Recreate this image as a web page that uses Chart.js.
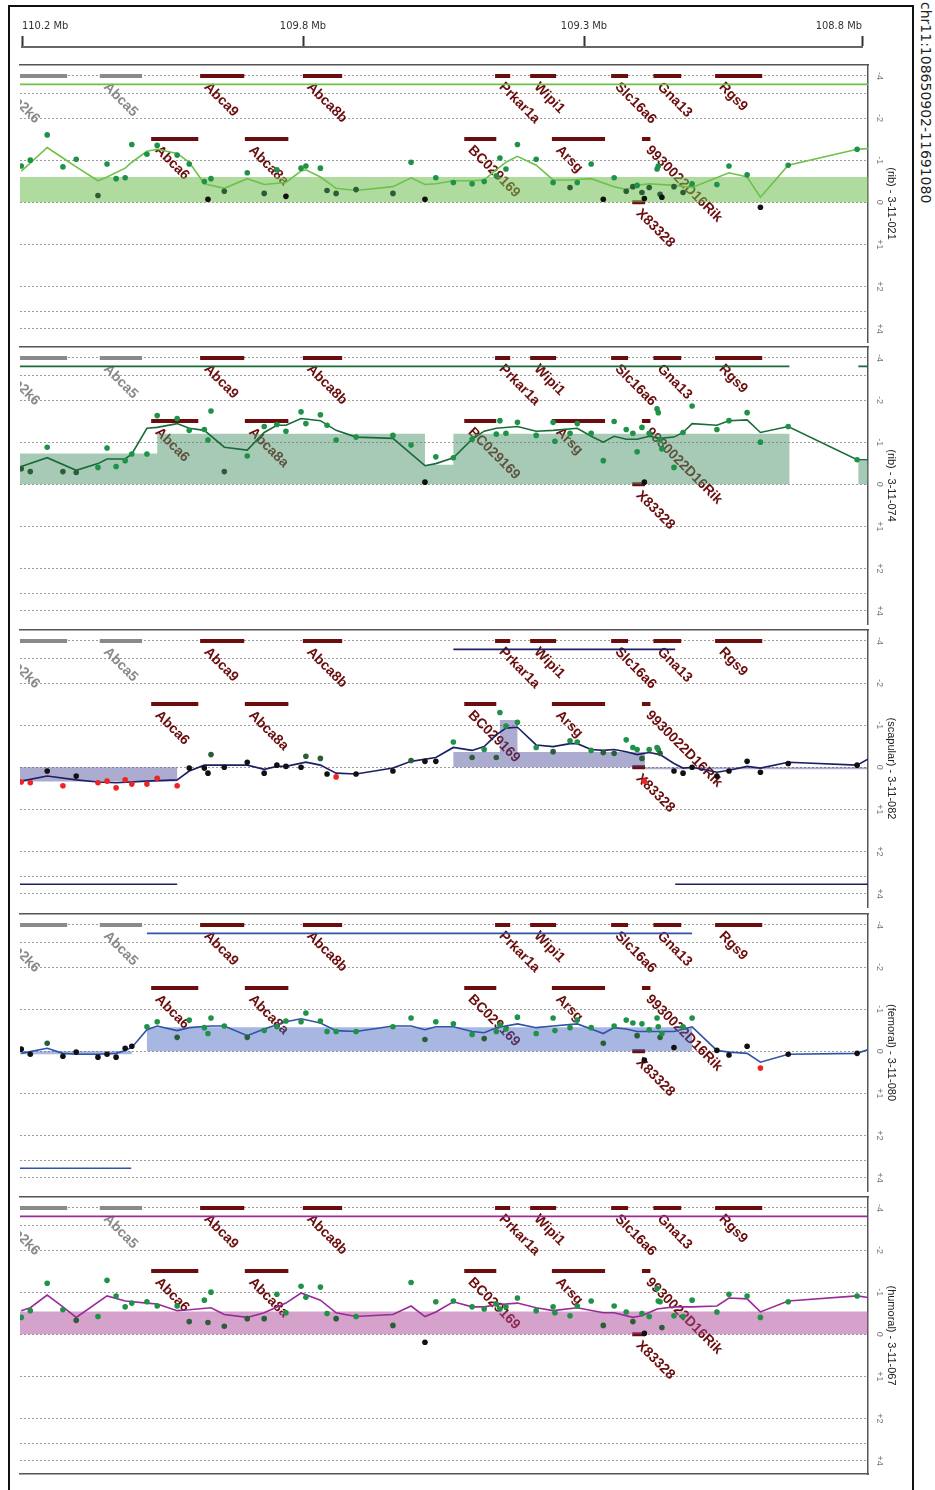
<!DOCTYPE html>
<html>
<head>
<meta charset="utf-8">
<title>chr11 array CGH</title>
<script src="https://cdn.jsdelivr.net/npm/chart.js@4.4.1/dist/chart.umd.min.js"></script>
<style>
  body { margin: 0; background: #fff; }
  #page { position: relative; width: 935px; height: 1490px; overflow: hidden; }
  #frame { position: absolute; left: 8px; top: 5px; width: 902px; height: 1500px; border: 2px solid #111; }
  .box { position: absolute; left: 0; width: 905px; }
  #chrom { position: absolute; left: 918px; top: 2px; writing-mode: vertical-rl; font: 14px "DejaVu Sans", sans-serif; color: #222; white-space: nowrap; }
</style>
</head>
<body>
<div id="page">
  <div id="frame"></div>
  <div class="box" style="top:0;height:52px"><canvas id="ruler" width="905" height="52"></canvas></div>
  <div id="chrom">chr11:108650902-11691080</div>
</div>
<script>
// probe positions on chr11 (Mb), same probes in every sample; last one sits just past the window
const probePos = [110.241, 110.226, 110.198, 110.172, 110.150, 110.114, 110.099, 110.084, 110.069, 110.058,
  110.033, 110.016, 109.983, 109.963, 109.938, 109.932, 109.927, 109.905, 109.867, 109.839,
  109.818, 109.803, 109.778, 109.770, 109.746, 109.735, 109.720, 109.687, 109.626, 109.596,
  109.573, 109.555, 109.526, 109.495, 109.475, 109.455, 109.449, 109.439, 109.420, 109.389,
  109.361, 109.358, 109.333, 109.321, 109.298, 109.278, 109.260, 109.240, 109.229, 109.222,
  109.214, 109.210, 109.202, 109.189, 109.187, 109.184, 109.181, 109.161, 109.146, 109.131,
  109.090, 109.070, 109.040, 109.018, 108.972, 108.858, 108.833];

// (rib) - 3-11-021
const rib021 = [-0.86, -1.00, -1.60, -0.84, -1.02, -0.16, -0.91, -0.56, -0.58, -1.37,
  -1.14, -1.35, -1.12, -0.91, -0.49, -0.07, -0.56, -0.26, -0.70, -0.21,
  -0.77, -0.14, -0.81, -0.86, -0.81, -0.28, -0.21, -0.30, -0.21, -0.95,
  -0.07, -0.58, -0.47, -0.44, -0.49, -0.63, -1.05, -0.79, -1.37, -1.02,
  -0.47, null, -0.35, -0.47, -0.91, -0.07, -0.58, -0.26, -0.37, -0.40,
  -0.23, -0.09, -0.35, -0.79, -0.86, -0.19, -0.12, -0.37, -0.23, -0.44,
  -0.42, -0.86, -0.65, 0.12, -0.88, -1.26, null];
const rib021Smooth = [-0.74, -0.93, -1.30, -1.05, -0.84, -0.51, -0.60, null, -0.81, -0.95,
  -1.21, -1.26, -1.16, -0.95, -0.44, null, null, -0.33, -0.56, -0.42,
  null, -0.47, -0.74, -0.77, -0.60, null, -0.33, -0.28, -0.37, -0.58,
  -0.42, -0.44, -0.51, -0.51, -0.53, -0.77, null, -0.95, -1.09, -0.88,
  -0.53, null, -0.53, null, -0.56, null, -0.37, -0.30, null, -0.40,
  null, null, -0.44, null, null, null, null, -0.40, null, -0.35,
  null, -0.70, -0.60, -0.12, -0.88, -1.26, -1.28];
const rib021Edges = [110.243, 108.840];
const rib021Means = [-0.60];
const rib021Top = [[110.243, 108.840]];
const rib021Bottom = [];

// (rib) - 3-11-074
const rib074 = [-0.37, -0.30, -0.88, -0.30, -0.28, -0.40, -0.86, -0.42, -0.56, -0.72,
  -0.72, -1.63, -1.56, -1.28, -1.30, -1.05, -1.74, -0.30, -0.67, -1.37,
  -1.42, -1.26, -1.72, -1.44, -1.65, -1.40, -1.05, -1.12, -1.16, -0.93,
  -0.05, -0.65, -0.63, -1.07, null, -1.19, -1.51, -1.21, -1.47, -1.16,
  -1.47, -1.02, -1.21, -1.44, -1.21, -0.56, -1.49, -1.30, -1.21, -0.77,
  -1.35, -0.05, -1.21, -1.79, -1.70, -1.05, -0.84, -0.40, -1.23, -1.86,
  -1.30, -1.51, -1.70, -1.00, -1.37, -0.58, null];
const rib074Smooth = [-0.42, null, -0.63, null, -0.33, -0.49, -0.60, null, -0.60, -0.72,
  -1.33, -1.35, -1.44, -1.33, -1.28, null, null, -0.88, -0.81, -1.23,
  -1.40, -1.40, -1.56, null, -1.51, null, -1.28, -1.12, -1.09, null,
  -0.44, -0.49, -0.63, -1.07, -1.26, -1.33, null, null, -1.37, -1.26,
  -1.28, null, null, -1.33, -1.14, -1.00, -1.14, -1.07, null, -1.07,
  null, null, -1.14, null, null, -1.09, null, -1.12, -1.23, -1.44,
  -1.40, -1.51, -1.53, -1.23, -1.37, -0.58, -0.58];
const rib074Edges = [110.243, 110.016, 109.573, 109.526, 108.970, 108.856, 108.840];
const rib074Means = [-0.73, -1.20, -0.46, -1.20, 0, -0.56];
const rib074Top = [[110.243, 108.970], [108.856, 108.840]];
const rib074Bottom = [];

// (scapular) - 3-11-082
const scap082 = [0.35, 0.37, 0.09, 0.44, 0.21, 0.37, 0.33, 0.49, 0.30, 0.40,
  0.40, 0.26, 0.44, 0.02, 0.02, 0.14, -0.30, 0.00, -0.12, 0.14,
  -0.05, -0.02, 0.00, -0.26, -0.21, 0.16, 0.23, 0.16, 0.09, -0.16,
  -0.14, -0.14, -0.60, -0.23, -0.42, -0.23, -1.30, -0.98, -1.07, -0.47,
  -0.37, null, -0.63, -0.60, -0.40, -0.35, -0.33, -0.65, -0.47, -0.42,
  -0.21, 0.33, -0.42, -0.47, -0.42, -0.33, null, 0.09, 0.14, 0.00,
  0.21, 0.09, -0.14, 0.12, -0.09, -0.05, null];
const scap082Smooth = [0.33, null, 0.21, null, 0.30, 0.35, null, 0.37, null, null,
  0.33, null, 0.30, 0.09, -0.05, null, null, null, -0.05, 0.05,
  -0.02, -0.02, null, -0.12, -0.05, null, 0.14, 0.16, 0.02, -0.14,
  null, -0.23, -0.47, -0.40, -0.49, -0.77, null, -0.93, -0.95, -0.53,
  -0.49, null, -0.56, -0.56, -0.42, -0.40, -0.42, -0.37, null, -0.30,
  null, null, -0.35, null, null, -0.30, null, -0.09, 0.02, 0.00,
  0.12, 0.07, -0.02, 0.02, -0.12, -0.05, -0.25];
const scap082Edges = [110.243, 109.983, 109.526, 109.449, 109.420, 109.209, 108.840];
const scap082Means = [0.34, 0, -0.36, -1.12, -0.36, 0.05];
const scap082Top = [[109.526, 109.159]];
const scap082Bottom = [[110.243, 109.983], [109.159, 108.840]];

// (femoral) - 3-11-080
const fem080 = [-0.05, 0.07, -0.19, 0.12, 0.02, 0.14, 0.07, 0.14, -0.07, -0.12,
  -0.58, -0.70, -0.33, -0.74, -0.56, -0.42, -0.79, -0.60, -0.33, -0.49,
  -0.58, -0.72, -0.70, -0.91, -0.72, -0.47, -0.47, -0.47, -0.58, -0.79,
  -0.28, -0.70, -0.65, -0.40, -0.30, -0.47, -0.63, -0.53, -0.81, -0.42,
  -0.79, -0.49, -0.56, -0.74, -0.56, -0.19, -0.60, -0.74, -0.67, -0.37,
  -0.65, 0.21, -0.51, -0.79, -0.58, -0.33, -0.42, -0.09, -0.58, -0.79,
  -0.02, 0.09, -0.12, 0.40, 0.07, 0.05, null];
const fem080Smooth = [0.05, null, -0.07, 0.05, 0.07, 0.07, null, 0.05, -0.02, -0.09,
  -0.51, -0.60, -0.49, -0.56, null, null, -0.60, -0.60, -0.37, -0.53,
  null, -0.70, -0.77, null, -0.67, null, -0.49, -0.47, -0.60, -0.60,
  -0.51, -0.58, -0.58, -0.47, -0.44, -0.56, null, null, -0.65, -0.56,
  -0.60, null, null, -0.65, -0.53, -0.42, -0.56, -0.53, null, -0.47,
  null, null, -0.47, null, null, -0.47, null, -0.47, null, -0.58,
  -0.02, 0.02, 0.05, 0.26, 0.07, 0.05, -0.07];
const fem080Edges = [110.243, 110.058, 110.033, 109.131, 108.840];
const fem080Means = [0.07, 0, -0.57, 0];
const fem080Top = [[110.033, 109.131]];
const fem080Bottom = [[110.243, 110.059]];

// (humoral) - 3-11-067
const hum067 = [-0.40, -0.56, -1.21, -0.58, -0.33, -0.42, -1.28, -0.91, -0.65, -0.74,
  -0.77, -0.67, -0.67, -0.30, -0.81, -0.28, -1.00, -0.19, -0.37, -0.37,
  -0.95, -0.51, -1.14, -0.88, -1.12, -0.49, -0.37, -0.42, -0.21, -1.23,
  0.19, -0.77, -0.79, -0.65, -0.60, -0.72, -0.60, -0.65, -0.86, -0.56,
  -0.65, -0.51, -0.44, -0.67, -0.79, -0.21, -0.67, -0.53, -0.30, null,
  -0.49, -0.02, -0.42, -1.09, -0.79, -0.77, -0.16, -0.44, -0.42, -0.81,
  -0.53, -0.95, -0.91, -0.40, -0.77, -0.91, null];
const hum067Smooth = [-0.56, -0.63, -0.93, -0.65, -0.40, null, -0.91, null, -0.79, null,
  -0.74, -0.72, -0.56, -0.58, null, null, -0.63, -0.47, -0.40, -0.51,
  null, -0.74, -0.98, null, -0.81, null, -0.51, -0.42, -0.47, -0.67,
  -0.42, -0.53, -0.77, -0.65, -0.65, -0.70, null, null, -0.74, -0.63,
  -0.56, null, null, -0.63, null, -0.51, -0.51, null, -0.40, null,
  -0.44, null, null, -0.60, null, null, null, -0.65, null, -0.65,
  -0.67, -0.86, -0.84, -0.53, -0.79, -0.91, -0.86];
const hum067Edges = [110.243, 108.840];
const hum067Means = [-0.54];
const hum067Top = [[110.243, 108.840]];
const hum067Bottom = [];

// genes in the window (Mb), row 1 = upper track, 2 = lower track, 3 = on the zero line
const geneNames = ['Map2k6', 'Abca5', 'Abca9', 'Abca8b', 'Prkar1a', 'Wipi1', 'Slc16a6', 'Gna13', 'Rgs9',
  'Abca6', 'Abca8a', 'BC029169', 'Arsg', '9930022D16Rik', 'X83328'];
const geneStart = [110.284, 110.111, 109.945, 109.775, 109.457, 109.399, 109.265, 109.195, 109.093,
  110.026, 109.871, 109.508, 109.363, 109.214, 109.230];
const geneEnd = [110.165, 110.041, 109.872, 109.710, 109.432, 109.356, 109.237, 109.149, 109.015,
  109.948, 109.799, 109.455, 109.275, 109.200, 109.209];
const geneRow = [1, 1, 1, 1, 1, 1, 1, 1, 1, 2, 2, 2, 2, 2, 3];
const greyGenes = ['Map2k6', 'Abca5'];

// axes (ruler ticks ascending so 'inner' alignment works on the reversed scale)
const rulerTicks = [108.85, 109.31, 109.775, 110.24];
const rulerLabels = ['108.8 Mb', '109.3 Mb', '109.8 Mb', '110.2 Mb'];
const ratioTicks = [-4, -3, -2, -1, 0, 1, 2, 3, 4];
const ratioLabels = ['-4', '', '-2', '-1', '0', '+1', '+2', '', '+4'];

const X_MIN = 108.840, X_MAX = 110.243;
const panelTops = [62, 344, 627, 911, 1194];

// linear up to |2|, log2-compressed beyond
function scaleY(v) {
  const a = Math.abs(v);
  return a <= 2 ? v : Math.sign(v) * (2 + Math.log2(a / 2));
}
const ROW_Y = {1: scaleY(-4), 2: -1.5, 3: 0};
const TOP_TRACK = -2.8, BOTTOM_TRACK = 2.78;

function dotColor(v) {
  if (v >= 0.22) return '#f02222';
  if (v > -0.15) return '#111111';
  if (v > -0.4) return '#2b5e37';
  return '#1e9247';
}

function probePoints(vals) {
  const out = [];
  probePos.forEach((x, i) => { if (vals[i] != null) out.push({x: x, y: scaleY(vals[i])}); });
  return out;
}
function stepPoints(edges, means) {
  const out = [];
  means.forEach((m, i) => { out.push({x: edges[i], y: m}, {x: edges[i + 1], y: m}); });
  return out;
}
function spanPoints(list, y) {
  const out = [];
  list.forEach(r => { out.push({x: r[0], y: y}, {x: r[1], y: y}, {x: r[1], y: null}); });
  return out;
}
function genePoints(row, grey) {
  const out = [];
  geneNames.forEach((g, i) => {
    if (geneRow[i] !== row || greyGenes.includes(g) !== grey) return;
    out.push({x: geneStart[i], y: ROW_Y[row]}, {x: geneEnd[i], y: ROW_Y[row]}, {x: geneEnd[i], y: null});
  });
  return out;
}

const geneLabels = {
  id: 'geneLabels',
  beforeDatasetsDraw(chart) {
    const {ctx, chartArea: a, scales: {x, y}} = chart;
    ctx.save();
    ctx.beginPath();
    ctx.rect(a.left, a.top, a.right - a.left, a.bottom - a.top);
    ctx.clip();
    ctx.font = 'bold 14px "Liberation Sans", Arial, sans-serif';
    ctx.textBaseline = 'top';
    geneNames.forEach((g, i) => {
      ctx.save();
      ctx.translate(x.getPixelForValue(geneStart[i]) + 11, y.getPixelForValue(ROW_Y[geneRow[i]]) + 4);
      ctx.rotate(Math.PI / 4);
      ctx.fillStyle = greyGenes.includes(g) ? '#8a8a8a' : '#6b0d0d';
      ctx.fillText(g, 0, 0);
      ctx.restore();
    });
    ctx.restore();
  }
};

// ruler on top
new Chart(document.getElementById('ruler'), {
  type: 'line',
  data: {datasets: []},
  options: {
    responsive: false, animation: false, events: [],
    layout: {padding: {left: 22, right: 43, top: 0, bottom: 0}},
    plugins: {legend: {display: false}, tooltip: {enabled: false}},
    scales: {
      x: {
        type: 'linear', position: 'top', reverse: true, min: 108.85, max: 110.24,
        afterBuildTicks: s => { s.ticks = rulerTicks.map(v => ({value: v})); },
        afterFit: s => { s.height = 47; s.paddingLeft = 0; s.paddingRight = 0; },
        ticks: {
          align: 'inner', padding: 3, color: '#333', maxRotation: 0,
          font: {family: '"Liberation Sans Narrow", "DejaVu Sans Condensed", Arial', size: 11},
          callback: (v, i) => rulerLabels[i]
        },
        grid: {drawOnChartArea: false, drawTicks: true, tickLength: 11, tickWidth: 2, tickColor: '#333'},
        border: {display: true, color: '#666', width: 2}
      },
      y: {display: false}
    }
  }
});

const panels = [
  {name: '(rib) - 3-11-021', ratios: rib021, smooth: rib021Smooth, edges: rib021Edges, means: rib021Means,
    top: rib021Top, bottom: rib021Bottom, line: '#6cc24a', band: 'rgba(110,190,80,0.55)'},
  {name: '(rib) - 3-11-074', ratios: rib074, smooth: rib074Smooth, edges: rib074Edges, means: rib074Means,
    top: rib074Top, bottom: rib074Bottom, line: '#1b6b3a', band: 'rgba(80,150,110,0.5)'},
  {name: '(scapular) - 3-11-082', ratios: scap082, smooth: scap082Smooth, edges: scap082Edges, means: scap082Means,
    top: scap082Top, bottom: scap082Bottom, line: '#1c1f66', band: 'rgba(70,72,150,0.45)'},
  {name: '(femoral) - 3-11-080', ratios: fem080, smooth: fem080Smooth, edges: fem080Edges, means: fem080Means,
    top: fem080Top, bottom: fem080Bottom, line: '#2f53a8', band: 'rgba(60,95,190,0.45)'},
  {name: '(humoral) - 3-11-067', ratios: hum067, smooth: hum067Smooth, edges: hum067Edges, means: hum067Means,
    top: hum067Top, bottom: hum067Bottom, line: '#9a2a99', band: 'rgba(170,70,150,0.5)'}
];

panels.forEach((p, k) => {
  const box = document.createElement('div');
  box.className = 'box';
  box.style.top = (panelTops[k] - 1) + 'px';
  box.style.height = '285px';
  const cv = document.createElement('canvas');
  cv.width = 905; cv.height = 285;
  box.appendChild(cv);
  document.getElementById('page').appendChild(box);

  const scales = {
    x: {
      type: 'linear', position: 'top', reverse: true, min: X_MIN, max: X_MAX,
      afterFit: s => { s.height = 0; },
      ticks: {display: false},
      grid: {display: false, drawTicks: false},
      border: {display: true, color: '#555', width: 1.5}
    },
    y: {
      type: 'linear', position: 'right', reverse: true, min: -3.26, max: 3.32,
      afterBuildTicks: s => { s.ticks = ratioTicks.map(v => ({value: scaleY(v)})); },
      afterFit: s => { s.width = 37; s.paddingTop = 0; s.paddingBottom = 0; },
      ticks: {
        callback: (v, i) => ratioLabels[i], color: '#777', padding: 6,
        minRotation: -90, crossAlign: 'center',
        font: {family: '"Liberation Sans", Arial', size: 9}
      },
      grid: {color: '#9a9a9a', lineWidth: 1, drawTicks: false},
      border: {display: true, color: '#555', width: 1.5, dash: [2, 2]},
      title: {
        display: true, text: p.name, color: '#222', padding: {top: 7, bottom: 0},
        font: {family: '"Liberation Sans", Arial', size: 11}
      }
    }
  };
  if (k === panels.length - 1) {
    scales.x2 = {
      type: 'linear', position: 'bottom', min: X_MIN, max: X_MAX,
      afterFit: s => { s.height = 0; },
      ticks: {display: false},
      grid: {display: false, drawTicks: false},
      border: {display: true, color: '#555', width: 1.5}
    };
  }

  new Chart(cv, {
    type: 'line',
    data: {
      datasets: [
        {type: 'scatter', data: probePoints(p.ratios), order: 0, pointRadius: 2.8, borderWidth: 0,
          backgroundColor: c => dotColor(c.raw ? c.raw.y : 0)},
        {data: probePoints(p.smooth), order: 1, borderColor: p.line, borderWidth: 1.6, pointRadius: 0,
          spanGaps: true, tension: 0},
        {data: spanPoints(p.top, TOP_TRACK), order: 2, borderColor: p.line, borderWidth: 1.6, pointRadius: 0, clip: 0},
        {data: spanPoints(p.bottom, BOTTOM_TRACK), order: 2, borderColor: p.line, borderWidth: 1.6, pointRadius: 0, clip: 0},
        {data: stepPoints(p.edges, p.means), order: 4, borderWidth: 0, pointRadius: 0, fill: 'origin',
          backgroundColor: p.band, borderColor: 'rgba(0,0,0,0)'},
        {data: genePoints(1, true), order: 5, borderColor: '#8a8a8a', borderWidth: 4, pointRadius: 0, clip: 0, borderCapStyle: 'butt'},
        {data: genePoints(1, false), order: 5, borderColor: '#6b0d0d', borderWidth: 4, pointRadius: 0, clip: 0, borderCapStyle: 'butt'},
        {data: genePoints(2, false), order: 5, borderColor: '#6b0d0d', borderWidth: 4, pointRadius: 0, clip: 0, borderCapStyle: 'butt'},
        {data: genePoints(3, false), order: 5, borderColor: '#6b0d0d', borderWidth: 4, pointRadius: 0, clip: 0, borderCapStyle: 'butt'}
      ]
    },
    options: {
      responsive: false, animation: false, events: [],
      layout: {padding: {left: 20, right: 0, top: 1, bottom: 1}},
      plugins: {legend: {display: false}, tooltip: {enabled: false}},
      scales: scales
    },
    plugins: [geneLabels]
  });
});
</script>
</body>
</html>
